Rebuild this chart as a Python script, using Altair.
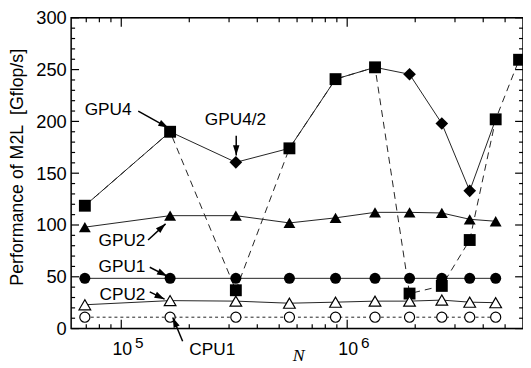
import math
import altair as alt
import pandas as pd

# ---------------- data ----------------
N_all = [69000, 164500, 321500, 555000, 888000, 1328000, 1888000, 2623000, 3486000, 4542000, 5765000]
N10 = [69000, 164500, 321500, 555000, 888000, 1328000, 1888000, 2623000, 3486000, 4542000]

gpu4 = [118.6, 190.0, 37.0, 174.0, 240.8, 252.2, 33.8, 41.2, 85.5, 202.0, 259.5]   # squares, dashed
gpu4_best = [118.6, 190.0, 160.5, 174.0, 240.8, 252.2, 245.5, 198.0, 133.0, 202.0]  # solid envelope
gpu4half_N = [321500, 1888000, 2623000, 3486000]
gpu4half = [160.5, 245.5, 198.0, 133.0]                                            # diamonds
gpu2 = [97.9, 109.0, 109.0, 102.0, 106.9, 112.2, 112.2, 111.6, 105.5, 103.6]
gpu1 = [48.5, 48.5, 48.5, 48.5, 48.5, 48.5, 48.5, 48.5, 48.5, 48.5]
cpu2 = [23.0, 27.0, 26.5, 24.5, 25.5, 26.5, 26.5, 27.5, 25.5, 25.0]
cpu1 = [11.0, 11.0, 11.0, 11.0, 11.0, 11.0, 11.0, 11.0, 11.0, 11.0]

y_major = [0, 50, 100, 150, 200, 250, 300]
y_minor = [10, 20, 30, 40, 60, 70, 80, 90, 110, 120, 130, 140, 160, 170, 180, 190,
           210, 220, 230, 240, 260, 270, 280, 290]
x_major = [1e5, 1e6]
x_major_base = ["10", "10"]
x_major_exp = ["5", "6"]
x_minor = [7e4, 8e4, 9e4, 2e5, 3e5, 4e5, 5e5, 6e5, 7e5, 8e5, 9e5, 2e6, 3e6, 4e6, 5e6]

ann_labels = ["GPU4", "GPU4/2", "GPU2", "GPU1", "CPU2", "CPU1"]
ann_N = [87500, 320200, 100700, 100700, 101200, 252700]
ann_v = [211.0, 201.4, 84.3, 59.5, 31.9, -20.5]

arr_tail_N = [118900, 322700, 131450, 133700, 133700, 186900]
arr_tail_v = [210.0, 186.2, 85.5, 59.2, 35.4, -12.2]
arr_tip_N = [161560, 322700, 157070, 159620, 155500, 169000]
arr_tip_v = [193.8, 167.1, 101.1, 50.7, 28.4, 10.7]

# ---------------- geometry / style ----------------
W, H = 458, 315
XDOM = [6e4, 6e6]
YDOM = [0, 300]
FONT = "Liberation Sans"
INK = "#000000"
LINE = "#222222"

xs = alt.Scale(type="log", domain=XDOM, nice=False)
ys = alt.Scale(domain=YDOM, nice=False)

X = alt.X("N:Q", scale=xs, axis=alt.Axis(
    labels=False, ticks=False, domain=False, grid=False,
    title="N", titleFont="Liberation Serif", titleFontStyle="italic",
    titleFontWeight="normal", titleFontSize=18, titleColor=INK,
    titleX=230, titleY=27, titleAlign="center", titleBaseline="middle"))
Y = alt.Y("v:Q", scale=ys, axis=alt.Axis(
    values=y_major, ticks=False, domain=False, grid=False,
    labelFont=FONT, labelFontSize=18.5, labelPadding=5, labelColor=INK,
    title="Performance of M2L\u00a0 [Gflop/s]", titleFont=FONT, titleFontSize=18,
    titleFontWeight="normal", titleColor=INK, titleAngle=270,
    titleX=-54.5, titleY=151, titleAlign="center", titleBaseline="middle"))


def df(n, v):
    return pd.DataFrame({"N": n, "v": v})


def line(n, v, dash=None):
    kw = dict(color=LINE, strokeWidth=1)
    if dash:
        kw["strokeDash"] = dash
    return alt.Chart(df(n, v)).mark_line(**kw).encode(x=X, y=Y)


def pts(n, v, shape, size, filled=True):
    if filled:
        m = alt.Chart(df(n, v)).mark_point(shape=shape, size=size, filled=True,
                                           color=INK, opacity=1)
    else:
        m = alt.Chart(df(n, v)).mark_point(shape=shape, size=size, filled=True,
                                           fill="white", stroke=INK, strokeWidth=1.2,
                                           opacity=1)
    return m.encode(x=X, y=Y)


layers = []

# frame
frame = pd.DataFrame({"k": [0]})
layers.append(alt.Chart(frame).mark_rect(fill=None, stroke=INK, strokeWidth=1.5)
              .encode(x=alt.value(0), x2=alt.value(W), y=alt.value(0), y2=alt.value(H)))

# lines
layers.append(line(N10, cpu1, dash=[3, 3]))
layers.append(line(N10, cpu2))
layers.append(line(N10, gpu1))
layers.append(line(N10, gpu2))
layers.append(line(N_all, gpu4, dash=[7, 5]))
layers.append(line(N10, gpu4_best))

# filled markers
layers.append(pts(N10, gpu1, "circle", 125))
layers.append(pts(N10, gpu2, "triangle-up", 145))
layers.append(pts(N_all, gpu4, "square", 145))
layers.append(pts(gpu4half_N, gpu4half, "diamond", 165))
# open markers
layers.append(pts(N10, cpu2, "triangle-up", 140, filled=False))
layers.append(pts(N10, cpu1, "circle", 105, filled=False))

# inward ticks
ymaj = pd.DataFrame({"v": y_major})
ymin = pd.DataFrame({"v": y_minor})
xmaj = pd.DataFrame({"N": x_major, "base": x_major_base, "exp": x_major_exp})
xmin = pd.DataFrame({"N": x_minor})
TK = dict(color=INK, strokeWidth=1.2)
for d, L in ((ymaj, 8), (ymin, 4)):
    layers.append(alt.Chart(d).mark_rule(**TK).encode(y=Y, x=alt.value(0), x2=alt.value(L)))
    layers.append(alt.Chart(d).mark_rule(**TK).encode(y=Y, x=alt.value(W), x2=alt.value(W - L)))
for d, L in ((xmaj, 9), (xmin, 4.5)):
    layers.append(alt.Chart(d).mark_rule(**TK).encode(x=X, y=alt.value(H), y2=alt.value(H - L)))
    layers.append(alt.Chart(d).mark_rule(**TK).encode(x=X, y=alt.value(0), y2=alt.value(L)))

# x tick labels 10^5, 10^6
layers.append(alt.Chart(xmaj).mark_text(font=FONT, fontSize=18, align="center",
                                         baseline="middle", dx=1, color=INK)
              .encode(x=X, y=alt.value(336.5), text="base:N"))
layers.append(alt.Chart(xmaj).mark_text(font=FONT, fontSize=15.5, align="left",
                                         baseline="middle", dx=14, color=INK)
              .encode(x=X, y=alt.value(330), text="exp:N"))

# annotations
ann = pd.DataFrame({"N": ann_N, "v": ann_v, "label": ann_labels})
layers.append(alt.Chart(ann).mark_text(font=FONT, fontSize=17.5, align="center",
                                        baseline="middle", color=INK)
              .encode(x=X, y=Y, text="label:N"))

PXDEC = W / 2.0
PXUNIT = H / 300.0
angles = []
for tn, tv, hn, hv in zip(arr_tail_N, arr_tail_v, arr_tip_N, arr_tip_v):
    dx = (math.log10(hn) - math.log10(tn)) * PXDEC
    dy = -(hv - tv) * PXUNIT
    angles.append(math.degrees(math.atan2(dy, dx)) % 360)
arr = pd.DataFrame({"N": arr_tail_N, "v": arr_tail_v, "N2": arr_tip_N, "v2": arr_tip_v})
heads = pd.DataFrame({"N": arr_tip_N, "v": arr_tip_v, "ang": angles})
layers.append(alt.Chart(arr).mark_rule(color=INK, strokeWidth=1.5)
              .encode(x=X, y=Y, x2="N2:Q", y2="v2:Q"))
layers.append(alt.Chart(heads).mark_point(shape="M0,0L-1,-0.32L-1,0.32Z", size=420,
                                           filled=True, color=INK, opacity=1)
              .encode(x=X, y=Y, angle=alt.Angle("ang:Q", scale=None)))

chart = alt.layer(*layers).properties(
    width=W, height=H,
    autosize=alt.AutoSizeParams(type="none"),
    padding={"left": 64, "top": 7.5, "right": 0, "bottom": 37},
).configure_view(stroke=None).configure(font=FONT)

chart.save("out.html", embed_options={"renderer": "svg", "actions": False})
